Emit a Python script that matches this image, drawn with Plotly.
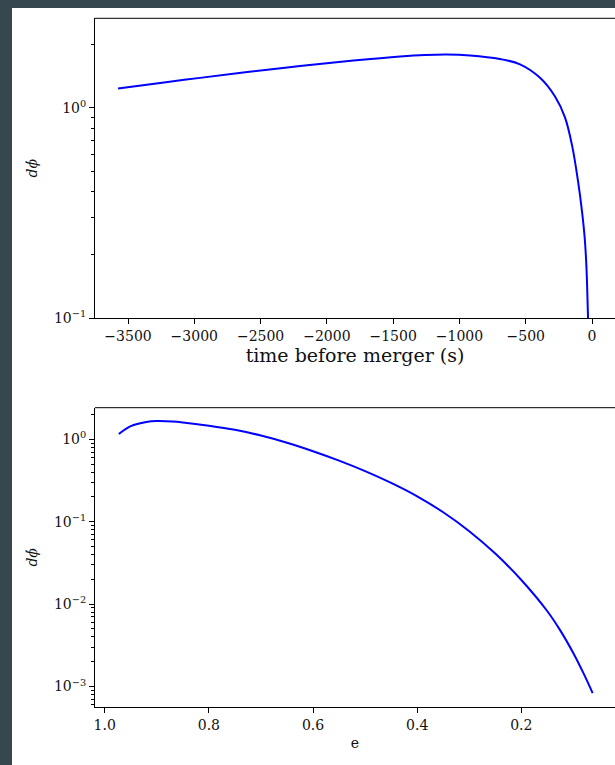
import plotly.graph_objects as go

# ---- data ----
time_s = [-3575, -3200, -2957, -2600, -2203, -1800, -1448, -1260, -1100, -920,
          -694, -543, -392, -279, -204, -150, -106, -75, -55, -42, -30, -20]
dphi_time = [1.235, 1.326, 1.386, 1.477, 1.578, 1.674, 1.751, 1.781, 1.791, 1.773,
             1.704, 1.607, 1.387, 1.13, 0.90, 0.66, 0.45, 0.32, 0.24, 0.175, 0.10, 0.055]

ecc = [0.973, 0.95, 0.92, 0.90, 0.87, 0.85, 0.80, 0.75, 0.70, 0.65, 0.60, 0.55,
       0.50, 0.45, 0.40, 0.35, 0.30, 0.25, 0.20, 0.15, 0.125, 0.10, 0.08, 0.063]
dphi_ecc = [1.16, 1.445, 1.62, 1.66, 1.64, 1.60, 1.462, 1.303, 1.109, 0.907, 0.716, 0.550,
            0.410, 0.295, 0.203, 0.130, 0.0767, 0.0410, 0.0196, 0.00818, 0.00476, 0.00253,
            0.00142, 0.00083]

x1_ticks = [-3500, -3000, -2500, -2000, -1500, -1000, -500, 0]
x2_ticks = [1.0, 0.8, 0.6, 0.4, 0.2]
x2_ticktext = ["1.0", "0.8", "0.6", "0.4", "0.2"]
y1_ticks = [0.1, 1]
y1_ticktext = ["10<sup>−1</sup>", "10<sup>0</sup>"]
y2_ticks = [1e-3, 1e-2, 1e-1, 1]
y2_ticktext = ["10<sup>−3</sup>", "10<sup>−2</sup>", "10<sup>−1</sup>", "10<sup>0</sup>"]

W, H = 615, 765
FONT = "DejaVu Serif"
TXT = "#111111"


def minor_vals(decades, lo, hi):
    out = []
    for d in decades:
        for m in range(2, 10):
            v = m * 10 ** d
            if lo <= v <= hi:
                out.append(v)
    return out


fig = go.Figure()
fig.add_trace(go.Scatter(x=time_s, y=dphi_time, mode="lines",
                         line=dict(color="#0000ff", width=2, shape="spline", smoothing=1.0),
                         xaxis="x", yaxis="y", showlegend=False))
fig.add_trace(go.Scatter(x=ecc, y=dphi_ecc, mode="lines",
                         line=dict(color="#0000ff", width=2, shape="spline", smoothing=1.0),
                         xaxis="x2", yaxis="y2", showlegend=False))

left = 95 / W
top1, bot1 = 18.3, 318
top2, bot2 = 407.7, 707

axis_common = dict(showgrid=False, zeroline=False, showline=True, linecolor="#000000",
                   linewidth=1, ticks="outside", ticklen=5, tickwidth=1, tickcolor="#000000",
                   tickfont=dict(family=FONT, size=14, color=TXT), automargin=False)

fig.update_layout(
    width=W, height=H,
    margin=dict(l=0, r=0, t=0, b=0),
    paper_bgcolor="white", plot_bgcolor="white",
    xaxis=dict(domain=[left, 1], anchor="y", range=[-3749, 173.5],
               tickmode="array", tickvals=x1_ticks,
               title=dict(text="time before merger (s)", font=dict(family=FONT, size=19, color=TXT), standoff=4),
               **axis_common),
    yaxis=dict(domain=[1 - bot1 / H, 1 - top1 / H], anchor="x", type="log",
               range=[-1, 0.425], tickmode="array", tickvals=y1_ticks, ticktext=y1_ticktext,
               minor=dict(tickvals=minor_vals([-1, 0], 0.1, 2.66), ticks="outside", ticklen=3,
                          tickcolor="#000000", showgrid=False),
               title=dict(text="<i>dϕ̇</i>", font=dict(family=FONT, size=14, color=TXT), standoff=13),
               **axis_common),
    xaxis2=dict(domain=[left, 1], anchor="y2", range=[1.0187, 0.0201],
                tickmode="array", tickvals=x2_ticks, ticktext=x2_ticktext,
                title=dict(text="e", font=dict(family=FONT, size=14, color=TXT), standoff=6),
                **axis_common),
    yaxis2=dict(domain=[1 - bot2 / H, 1 - top2 / H], anchor="x2", type="log",
                range=[-3.249, 0.383], tickmode="array", tickvals=y2_ticks, ticktext=y2_ticktext,
                minor=dict(tickvals=minor_vals([-4, -3, -2, -1, 0], 10 ** -3.249, 10 ** 0.383),
                           ticks="outside", ticklen=3, tickcolor="#000000", showgrid=False),
                title=dict(text="<i>dϕ̇</i>", font=dict(family=FONT, size=14, color=TXT), standoff=13),
                **axis_common),
    shapes=[
        dict(type="rect", xref="paper", yref="paper", x0=0, x1=12 / W, y0=0, y1=1,
             fillcolor="#37474f", line=dict(width=0), layer="above"),
        dict(type="rect", xref="paper", yref="paper", x0=0, x1=1, y0=1 - 8 / H, y1=1,
             fillcolor="#37474f", line=dict(width=0), layer="above"),
        dict(type="line", xref="paper", yref="paper", x0=left, x1=1,
             y0=1 - top1 / H, y1=1 - top1 / H, line=dict(color="#000000", width=1)),
        dict(type="line", xref="paper", yref="paper", x0=left, x1=1,
             y0=1 - top2 / H, y1=1 - top2 / H, line=dict(color="#000000", width=1)),
    ],
)

fig.write_html("out.html")
